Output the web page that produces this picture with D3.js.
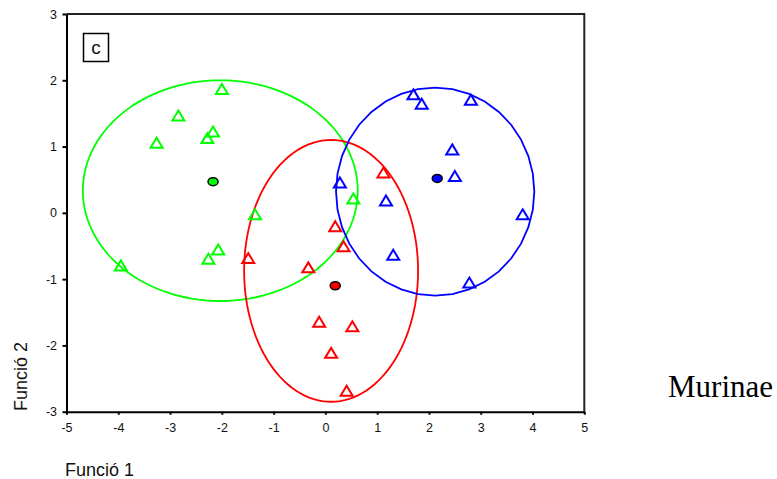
<!DOCTYPE html>
<html>
<head>
<meta charset="utf-8">
<script src="https://cdn.jsdelivr.net/npm/d3@7"></script>
<style>
body { margin: 0; background: #fff; }
</style>
</head>
<body>
<div id="chart"></div>
<script>
// cases per group: [funcio1, funcio2]
var greenPts = [[-2.00,1.86],[-2.84,1.46],[-3.26,1.05],[-2.17,1.22],[-2.28,1.12],
                [-1.36,-0.03],[-2.07,-0.56],[-2.26,-0.70],[-3.95,-0.80],[0.54,0.21]];
var redPts = [[-1.49,-0.69],[-0.33,-0.83],[0.19,-0.21],[0.35,-0.51],[1.12,0.60],
              [-0.12,-1.65],[0.52,-1.72],[0.11,-2.12],[0.41,-2.69]];
var bluePts = [[1.70,1.78],[1.86,1.64],[2.81,1.70],[2.45,0.95],[2.50,0.55],
               [0.28,0.45],[1.17,0.18],[3.81,-0.03],[1.31,-0.64],[2.78,-1.06]];

// group centroids
var centroids = [[-2.17,0.47],[0.19,-1.10],[2.16,0.52]];
// ellipses: cx, cy, rx, ry (data units)
var ellipses = [[-2.03,0.335,2.655,1.665],[0.11,-0.875,1.68,1.975],[2.12,0.32,1.915,1.57]];
var colors = ["#00ff00","#ff0000","#0000ff"];

var xTicks = [-5,-4,-3,-2,-1,0,1,2,3,4,5];
var yTicks = [-3,-2,-1,0,1,2,3];

var sans = "'Liberation Sans', Arial, sans-serif";
var W = 777, H = 479;
var svg = d3.select("#chart").append("svg")
    .attr("width", W).attr("height", H);
svg.append("rect").attr("width", W).attr("height", H).attr("fill", "#fff");

var x = d3.scaleLinear().domain([-5,5]).range([66.5,584.3]);
var y = d3.scaleLinear().domain([-3,3]).range([411.7,14]);

// frame top/right
svg.append("path")
    .attr("d", "M" + x(-5) + "," + y(3) + "H" + x(5) + "V" + y(-3))
    .attr("fill","none").attr("stroke","#222").attr("stroke-width",2);

var xa = svg.append("g").attr("transform","translate(0," + y(-3) + ")")
    .call(d3.axisBottom(x).tickValues(xTicks).tickSize(3).tickPadding(8.5).tickSizeOuter(0));
var ya = svg.append("g").attr("transform","translate(" + x(-5) + ",0)")
    .call(d3.axisLeft(y).tickValues(yTicks).tickSize(4).tickPadding(5.5).tickSizeOuter(0));
[xa, ya].forEach(function(a){
    a.select(".domain").attr("stroke","#000").attr("stroke-width",2);
    a.selectAll(".tick line").attr("stroke","#000").attr("stroke-width",2);
    a.selectAll(".tick text").style("font-size","12.5px").style("font-family",sans)
        .attr("fill","#111")
        .text(function(d){ return String(d); });
});

// group ellipses
ellipses.forEach(function(e, i){
    var n = i == 2 ? 36 : 120;
    var pts = d3.range(n).map(function(k){
        var a = k / n * 2 * Math.PI;
        return [x(e[0] + e[2]*Math.cos(a)), y(e[1] + e[3]*Math.sin(a))];
    });
    svg.append("path")
        .attr("d", d3.line()(pts) + "Z")
        .attr("fill","none").attr("stroke",colors[i]).attr("stroke-width",1.8);
});

// triangles
[greenPts, redPts, bluePts].forEach(function(pts, i){
    svg.selectAll(null).data(pts).enter().append("path")
        .attr("d", "M0,-5.5L6,4.5L-6,4.5Z")
        .attr("transform", function(d){ return "translate(" + x(d[0]) + "," + y(d[1]) + ")"; })
        .attr("fill","none").attr("stroke",colors[i]).attr("stroke-width",2);
});

// centroids
svg.selectAll(null).data(centroids).enter().append("ellipse")
    .attr("cx", function(d){ return x(d[0]); })
    .attr("cy", function(d){ return y(d[1]); })
    .attr("rx",5).attr("ry",4)
    .attr("fill", function(d,i){ return colors[i]; })
    .attr("stroke","#000").attr("stroke-width",1.5);

// panel label
svg.append("rect").attr("x",83.5).attr("y",33.5).attr("width",25).attr("height",28)
    .attr("fill","#fff").attr("stroke","#000").attr("stroke-width",1.5);
svg.append("text").attr("x",96).attr("y",54).attr("text-anchor","middle")
    .style("font-family",sans).style("font-size","19px").attr("fill","#111").text("c");

// axis titles
svg.append("text").attr("x",65).attr("y",476)
    .style("font-family",sans).style("font-size","18px").attr("fill","#111").text("Funció 1");
svg.append("text").attr("transform","translate(27,411) rotate(-90)")
    .style("font-family",sans).style("font-size","18px").attr("fill","#111").text("Funció 2");

svg.append("text").attr("x",668).attr("y",397)
    .style("font-family","'Liberation Serif', 'Times New Roman', serif")
    .style("font-size","31px").attr("fill","#000").text("Murinae");
</script>
</body>
</html>
